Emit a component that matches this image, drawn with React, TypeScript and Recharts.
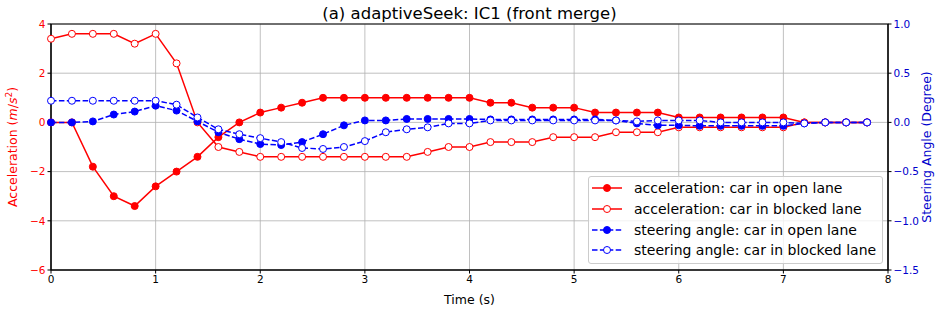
import React from "react";
import {
  LineChart,
  Line,
  XAxis,
  YAxis,
  CartesianGrid,
  Legend,
  ReferenceArea,
} from "recharts";

const time = [
  0, 0.2, 0.4, 0.6, 0.8, 1.0, 1.2, 1.4, 1.6, 1.8, 2.0, 2.2, 2.4, 2.6, 2.8, 3.0, 3.2, 3.4, 3.6, 3.8,
  4.0, 4.2, 4.4, 4.6, 4.8, 5.0, 5.2, 5.4, 5.6, 5.8, 6.0, 6.2, 6.4, 6.6, 6.8, 7.0, 7.2, 7.4, 7.6, 7.8,
];
const accOpen = [
  0, 0, -1.8, -3.0, -3.4, -2.6, -2.0, -1.4, -0.6, 0, 0.4, 0.6, 0.8, 1.0, 1.0, 1.0, 1.0, 1.0, 1.0, 1.0,
  1.0, 0.8, 0.8, 0.6, 0.6, 0.6, 0.4, 0.4, 0.4, 0.4, 0.2, 0.2, 0.2, 0.2, 0.2, 0.2, 0, 0, 0, 0,
];
const accBlocked = [
  3.4, 3.6, 3.6, 3.6, 3.2, 3.6, 2.4, 0, -1.0, -1.2, -1.4, -1.4, -1.4, -1.4, -1.4, -1.4, -1.4, -1.4, -1.2, -1.0,
  -1.0, -0.8, -0.8, -0.8, -0.6, -0.6, -0.6, -0.4, -0.4, -0.4, -0.2, -0.2, -0.2, -0.2, -0.2, -0.2, 0, 0, 0, 0,
];
const steerOpen = [
  0, 0, 0.01, 0.08, 0.11, 0.17, 0.12, 0.01, -0.1, -0.17, -0.22, -0.23, -0.2, -0.12, -0.03, 0.02, 0.02, 0.035, 0.035, 0.035,
  0.035, 0.03, 0.03, 0.03, 0.03, 0.03, 0.03, 0.02, -0.01, -0.03, -0.03, -0.035, -0.035, -0.035, -0.035, -0.035, -0.01, 0, 0, 0,
];
const steerBlocked = [
  0.22, 0.22, 0.22, 0.22, 0.22, 0.22, 0.18, 0.05, -0.07, -0.12, -0.16, -0.2, -0.26, -0.27, -0.25, -0.19, -0.1, -0.07, -0.05, -0.01,
  -0.01, 0.02, 0.02, 0.02, 0.02, 0.02, 0.02, 0.02, 0.01, 0.02, 0.02, 0.02, 0, 0, 0, 0, -0.01, 0, 0, 0,
];

const xTicks = [0, 1, 2, 3, 4, 5, 6, 7, 8];
const accTicks = [-6, -4, -2, 0, 2, 4];
const steerTicks = [-1.5, -1.0, -0.5, 0, 0.5, 1.0];

const data = time.map((t, i) => ({
  t,
  accOpen: accOpen[i],
  accBlocked: accBlocked[i],
  steerOpen: steerOpen[i],
  steerBlocked: steerBlocked[i],
}));

const RED = "#ff0000";
const BLUE = "#0000ff";
const FONT = "DejaVu Sans, sans-serif";

const minus = (s: string) => s.replace("-", "\u2212");

const legendItems = [
  { label: "acceleration: car in open lane", color: RED, dash: false, filled: true },
  { label: "acceleration: car in blocked lane", color: RED, dash: false, filled: false },
  { label: "steering angle: car in open lane", color: BLUE, dash: true, filled: true },
  { label: "steering angle: car in blocked lane", color: BLUE, dash: true, filled: false },
];

function LegendBox() {
  return (
    <div
      style={{
        background: "rgba(255,255,255,0.8)",
        border: "1px solid #cccccc",
        borderRadius: 3,
        padding: "1px 6px 2px 2px",
        fontFamily: FONT,
        fontSize: 14,
        color: "#000",
      }}
    >
      {legendItems.map((it) => (
        <div key={it.label} style={{ display: "flex", alignItems: "center", height: 20.7 }}>
          <svg width={36} height={12} style={{ marginRight: 7 }}>
            <line
              x1={1}
              x2={31}
              y1={6}
              y2={6}
              stroke={it.color}
              strokeWidth={1.5}
              strokeDasharray={it.dash ? "5.5 2.4" : undefined}
            />
            <circle cx={16} cy={6} r={3.5} fill={it.filled ? it.color : "#fff"} stroke={it.color} strokeWidth={1} />
          </svg>
          <span style={{ whiteSpace: "nowrap" }}>{it.label}</span>
        </div>
      ))}
    </div>
  );
}

export default function App() {
  return (
    <div style={{ position: "absolute", left: 0, top: 0, width: 943, height: 311, background: "#fff" }}>
      <div
        style={{
          position: "absolute",
          left: 51,
          width: 837,
          top: 4,
          textAlign: "center",
          fontFamily: FONT,
          fontSize: 16.5,
          color: "#000",
        }}
      >
        (a) adaptiveSeek: IC1 (front merge)
      </div>
      <LineChart width={943} height={311} data={data} margin={{ top: 24, right: 0, bottom: 0, left: 0 }}>
        <CartesianGrid stroke="#b0b0b0" strokeWidth={0.8} yAxisId="left" />
        <XAxis
          dataKey="t"
          type="number"
          domain={[0, 8]}
          ticks={xTicks}
          height={41}
          tickSize={3.5}
          tickLine={{ stroke: "#000" }}
          axisLine={{ stroke: "#000" }}
          tick={{ fill: "#000", fontSize: 10.5, fontFamily: FONT }}
          label={{ value: "Time (s)", position: "insideBottom", offset: 7, fill: "#000", fontSize: 12.5, fontFamily: FONT }}
        />
        <YAxis
          yAxisId="left"
          domain={[-6, 4]}
          ticks={accTicks}
          width={51}
          tickSize={3.5}
          tickLine={{ stroke: "#000" }}
          axisLine={{ stroke: "#000" }}
          tickFormatter={(v: number) => minus(String(v))}
          tick={{ fill: RED, fontSize: 10.5, fontFamily: FONT }}
          label={{
            content: () => (
              <text
                x={17}
                y={147}
                transform="rotate(-90 17 147)"
                textAnchor="middle"
                fill={RED}
                fontSize={12.5}
                fontFamily={FONT}
              >
                Acceleration (
                <tspan fontStyle="italic">m</tspan>/<tspan fontStyle="italic">s</tspan>
                <tspan dy={-5} fontSize={9}>2</tspan>
                <tspan dy={5}>)</tspan>
              </text>
            ),
          }}
        />
        <YAxis
          yAxisId="right"
          orientation="right"
          domain={[-1.5, 1.0]}
          ticks={steerTicks}
          width={55}
          tickSize={3.5}
          tickLine={{ stroke: "#000" }}
          axisLine={{ stroke: "#000" }}
          tickFormatter={(v: number) => minus(v.toFixed(1))}
          tick={{ fill: "#0000cc", fontSize: 10.5, fontFamily: FONT }}
          label={{
            content: () => (
              <text
                x={931}
                y={147}
                transform="rotate(-90 931 147)"
                textAnchor="middle"
                fill="#0000cc"
                fontSize={12.5}
                fontFamily={FONT}
              >
                Steering Angle (Degree)
              </text>
            ),
          }}
        />
        <ReferenceArea yAxisId="left" x1={0} x2={8} y1={-6} y2={4} fill="none" stroke="#000" strokeWidth={1.2} />
        <Line
          yAxisId="left"
          dataKey="accOpen"
          type="linear"
          stroke={RED}
          strokeWidth={1.5}
          dot={{ r: 3.5, fill: RED, stroke: RED, strokeWidth: 1 }}
          activeDot={false}
          isAnimationActive={false}
        />
        <Line
          yAxisId="left"
          dataKey="accBlocked"
          type="linear"
          stroke={RED}
          strokeWidth={1.5}
          dot={{ r: 3.5, fill: "#fff", stroke: RED, strokeWidth: 1 }}
          activeDot={false}
          isAnimationActive={false}
        />
        <Line
          yAxisId="right"
          dataKey="steerOpen"
          type="linear"
          stroke={BLUE}
          strokeWidth={1.5}
          strokeDasharray="5.5 2.4"
          dot={{ r: 3.5, fill: BLUE, stroke: BLUE, strokeWidth: 1, strokeDasharray: "" }}
          activeDot={false}
          isAnimationActive={false}
        />
        <Line
          yAxisId="right"
          dataKey="steerBlocked"
          type="linear"
          stroke={BLUE}
          strokeWidth={1.5}
          strokeDasharray="5.5 2.4"
          dot={{ r: 3.5, fill: "#fff", stroke: BLUE, strokeWidth: 1, strokeDasharray: "" }}
          activeDot={false}
          isAnimationActive={false}
        />
        <Legend
          layout="horizontal"
          verticalAlign="middle"
          align="center"
          wrapperStyle={{ left: 588, top: 176, width: "auto" }}
          content={() => <LegendBox />}
        />
      </LineChart>
    </div>
  );
}
